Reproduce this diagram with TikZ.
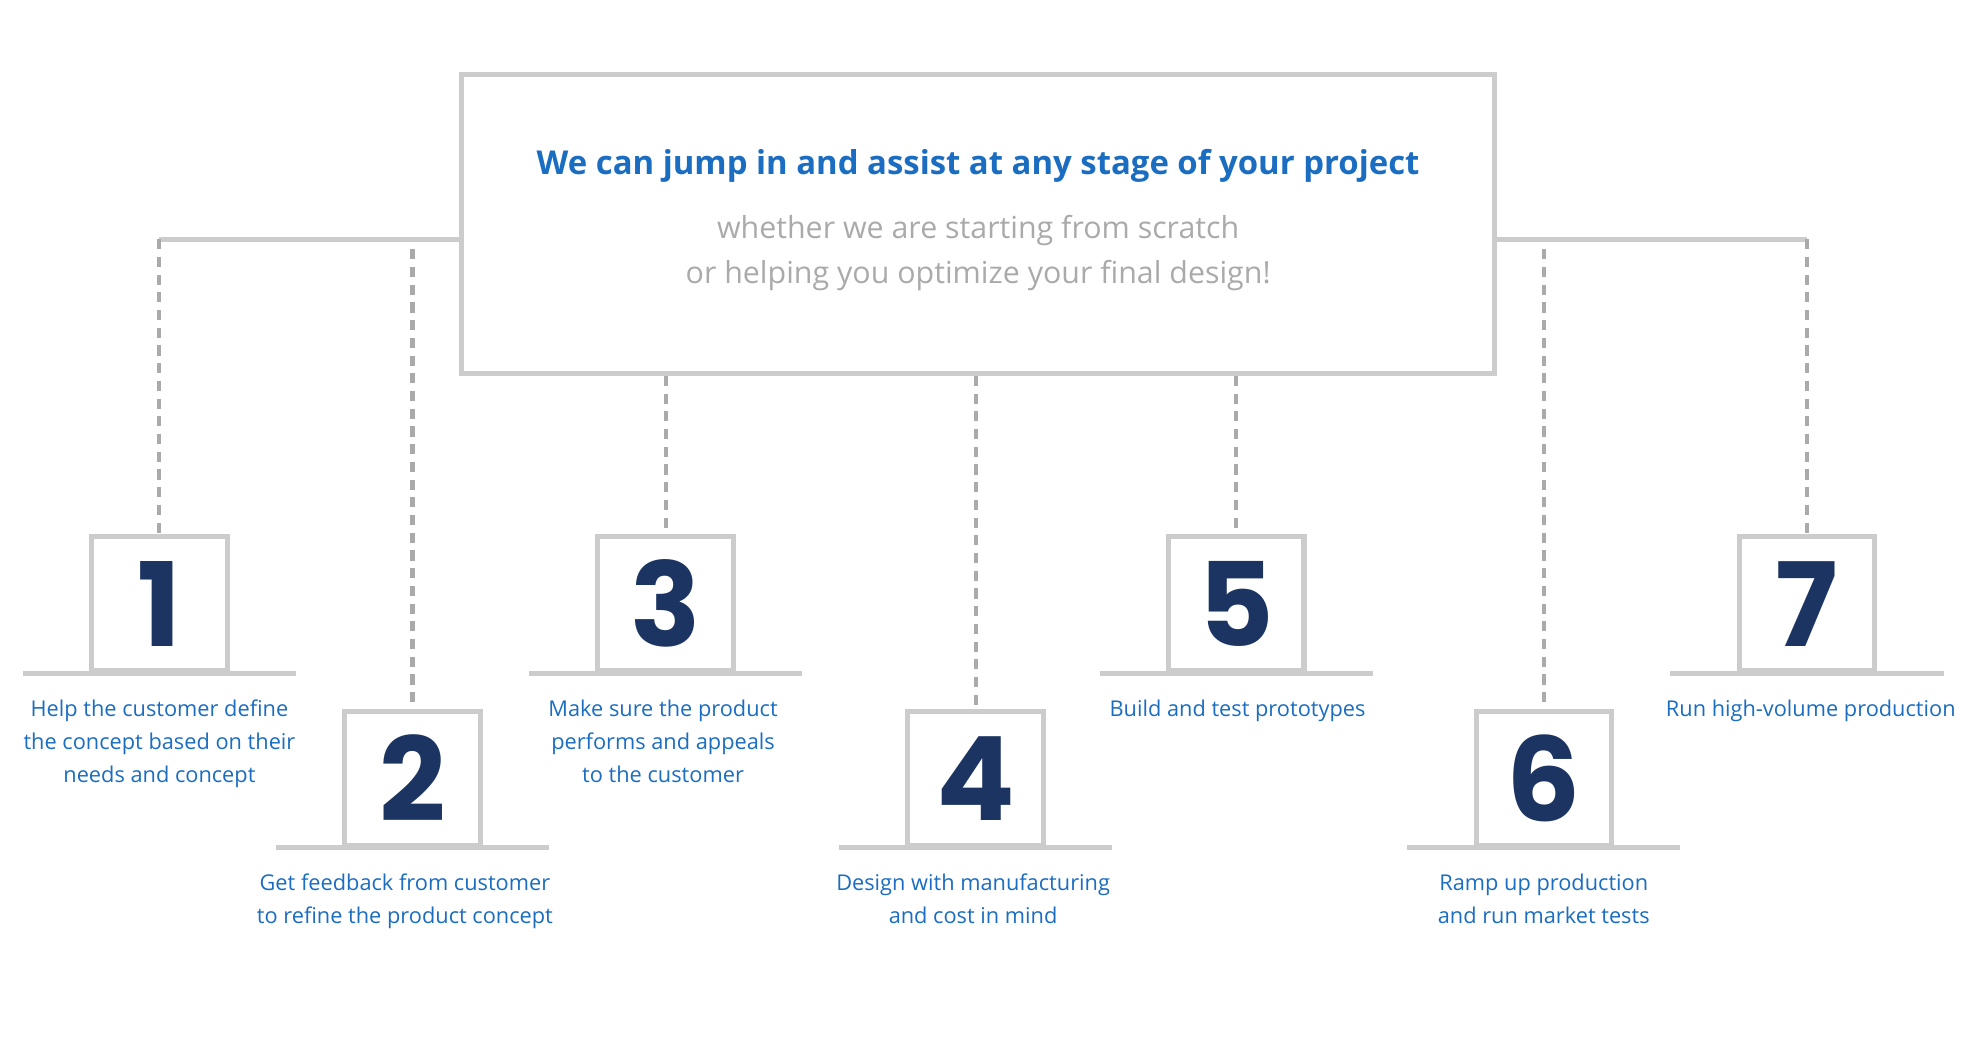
\documentclass[tikz,border=0pt]{standalone}
\usepackage{fontspec}
\setmainfont{Open Sans}
\newfontfamily\digitfont{Poppins}[FontFace={b}{n}{Poppins Bold}]
\usetikzlibrary{positioning}
\definecolor{boxgray}{HTML}{CCCCCC}
\definecolor{dashgray}{HTML}{AAAAAA}
\definecolor{textblue}{HTML}{1A6DC0}
\definecolor{navy}{HTML}{1C3461}
\tikzset{
  stepbox/.style={draw=boxgray, line width=2pt, minimum width=53.5pt, minimum height=53pt, inner sep=0pt,
    font=\digitfont\bfseries\fontsize{46}{46}\selectfont, text=navy},
  base/.style={draw=boxgray, line width=2pt},
  link/.style={draw=dashgray, line width=1.6pt, dash pattern=on 4pt off 3pt},
  caption/.style={align=center, text=textblue, font=\fontsize{8.6}{13}\selectfont, anchor=north, inner sep=0pt}
}
\begin{document}
\begin{tikzpicture}[x=0.5pt, y=-0.5pt]
\useasboundingbox (0,0) rectangle (1560,833);
\node[draw=boxgray, line width=2pt, minimum width=408pt, minimum height=118pt] (head) at (773,177) {};
\node[text=textblue, font=\bfseries\fontsize{13}{13}\selectfont] (title) at (773,131) {We can jump in and assist at any stage of your project};
\node[text=dashgray, align=center, font=\fontsize{12}{17.5}\selectfont] (sub) at (773,200) {whether we are starting from scratch\\or helping you optimize your final design!};
% numbered steps
\node[stepbox] (s1) at (126,477) {1};
\node[stepbox] (s2) at (326,615) {2};
\node[stepbox] (s3) at (526,477) {3};
\node[stepbox] (s4) at (771,615) {4};
\node[stepbox] (s5) at (977,477) {5};
\node[stepbox] (s6) at (1220,615) {6};
\node[stepbox] (s7) at (1428,477) {7};
\foreach \s in {s1,s2,s3,s4,s5,s6,s7}
  \draw[base] ([xshift=-54pt]\s.south) -- ([xshift=54pt]\s.south);
% links
\coordinate (l1) at (126,189);
\coordinate (r7) at (1428,189);
\draw[base] (head.west |- l1) -- (l1);
\draw[base] (head.east |- r7) -- (r7);
\draw[link] (l1) -- (s1.north);
\draw[link] (r7) -- (s7.north);
\draw[link] (326,197) -- (s2.north);
\draw[link] (1220,197) -- (s6.north);
\draw[link] (s3.north |- head.south) -- (s3.north);
\draw[link] (s4.north |- head.south) -- (s4.north);
\draw[link] (s5.north |- head.south) -- (s5.north);
% captions
\node[caption] (c1) at (126,553) {Help the customer define\\the concept based on their\\needs and concept};
\node[caption] (c2) at (320,690) {Get feedback from customer\\to refine the product concept};
\node[caption] (c3) at (524,553) {Make sure the product\\performs and appeals\\to the customer};
\node[caption] (c4) at (769,690) {Design with manufacturing\\and cost in mind};
\node[caption] (c5) at (978,553) {Build and test prototypes};
\node[caption] (c6) at (1220,690) {Ramp up production\\and run market tests};
\node[caption] (c7) at (1431,553) {Run high-volume production};
\end{tikzpicture}
\end{document}
